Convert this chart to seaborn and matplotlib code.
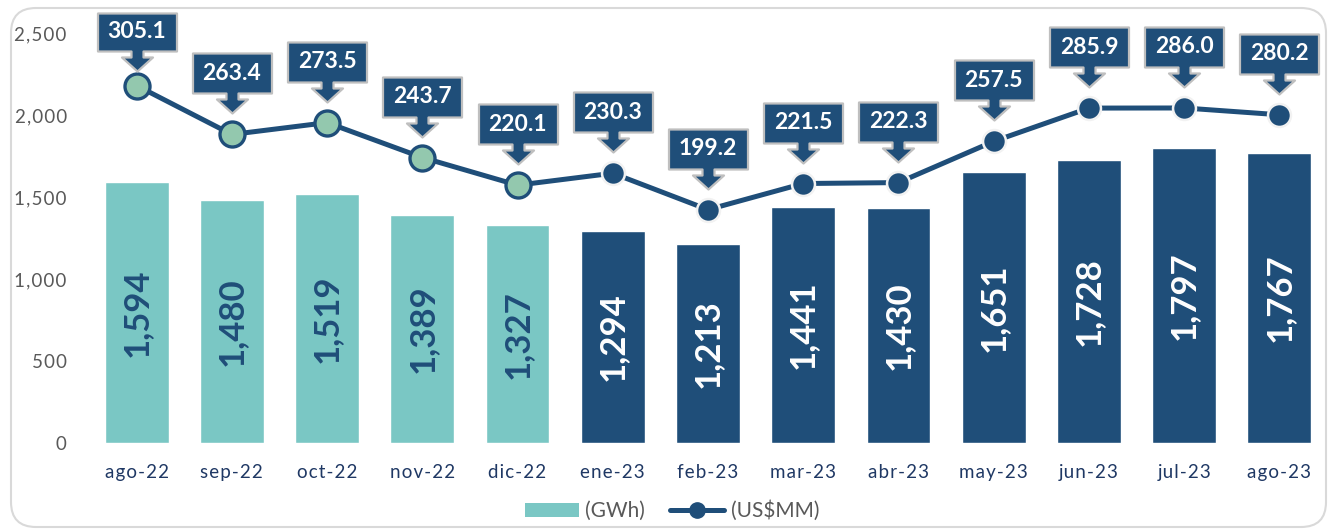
import numpy as np
import pandas as pd
import matplotlib
matplotlib.use("Agg")
import matplotlib.pyplot as plt
import seaborn as sns
from matplotlib.path import Path
from matplotlib.patches import FancyBboxPatch, Patch
from matplotlib.lines import Line2D
from matplotlib.transforms import IdentityTransform

# ---------------- data ----------------
months = ["ago-22", "sep-22", "oct-22", "nov-22", "dic-22", "ene-23", "feb-23",
          "mar-23", "abr-23", "may-23", "jun-23", "jul-23", "ago-23"]
gwh = [1594, 1480, 1519, 1389, 1327, 1294, 1213, 1441, 1430, 1651, 1728, 1797, 1767]
usd_mm = [305.1, 263.4, 273.5, 243.7, 220.1, 230.3, 199.2, 221.5, 222.3, 257.5, 285.9, 286.0, 280.2]
y_ticks = [0, 500, 1000, 1500, 2000, 2500]
legend_labels = ["(GWh)", "(US\\$MM)"]
n_prior = 5  # first five months drawn in teal

# ---------------- style ----------------
TEAL = "#7AC7C4"
NAVY = "#1F4E79"
GREEN = "#93C8AE"
GRAY = "#595959"
XLAB = "#1F3864"
SP = "\u200a"  # hair space used to mimic the letter-spaced tick labels

sns.set_theme(style="white")
plt.rcParams["font.family"] = ["Lato", "DejaVu Sans"]

W, H, DPI = 1332, 529, 100
fig = plt.figure(figsize=(W / DPI, H / DPI), dpi=DPI)
ax = fig.add_axes([89 / W, 1 - 443 / H, (1327 - 89) / W, (443 - 33) / H])

df = pd.DataFrame({"month": months, "gwh": gwh, "usd": usd_mm})
bar_colors = [TEAL if i < n_prior else NAVY for i in range(len(months))]
sns.barplot(data=df, x="month", y="gwh", hue="month", palette=bar_colors,
            legend=False, width=0.67, saturation=1, ax=ax)

ax.set_xlim(-0.5, len(months) - 0.5)
ax.set_ylim(0, 2500)
ax.set_yticks(y_ticks)
ax.set_yticklabels([SP.join(f"{t:,}") for t in y_ticks])
ax.set_xticks(range(len(months)))
ax.set_xticklabels([SP.join(m) for m in months])
ax.set_xlabel("")
ax.set_ylabel("")
for s in ax.spines.values():
    s.set_visible(False)
ax.tick_params(axis="y", length=0, pad=16, labelsize=13.5, labelcolor=GRAY)
ax.tick_params(axis="x", length=0, pad=15, labelsize=13.5, labelcolor=XLAB)

# bar value labels (vertical, centred in bar)
for i, v in enumerate(gwh):
    ax.text(i, v / 2, f"{v:,}", rotation=90, ha="center", va="center",
            fontsize=25, fontweight="bold",
            color=NAVY if i < n_prior else "white")

# ---------------- secondary axis: line ----------------
ax2 = ax.twinx()
ax2.set_ylim(0, 350)
ax2.set_yticks([])
for s in ax2.spines.values():
    s.set_visible(False)

sns.lineplot(data=df, x="month", y="usd", color=NAVY, linewidth=3.6,
             sort=False, ax=ax2, zorder=3)
ax2.set_ylabel("")
ax2.set_xlabel("")

xs = np.arange(len(months))
ax2.plot(xs[:n_prior], usd_mm[:n_prior], linestyle="none", marker="o",
         markersize=18, markerfacecolor=GREEN, markeredgecolor=NAVY,
         markeredgewidth=2.4, zorder=4, clip_on=False)
ax2.plot(xs[n_prior:], usd_mm[n_prior:], linestyle="none", marker="o",
         markersize=16.5, markerfacecolor=NAVY, markeredgecolor="#F2F2F2",
         markeredgewidth=1.8, zorder=4, clip_on=False)


def callout_path(tip, head_base, box_bot, box_top, half_w=39.5, head_hw=15.5, shaft_hw=6):
    verts = [(0, tip), (head_hw, head_base), (shaft_hw, head_base), (shaft_hw, box_bot),
             (half_w, box_bot), (half_w, box_top), (-half_w, box_top), (-half_w, box_bot),
             (-shaft_hw, box_bot), (-shaft_hw, head_base), (-head_hw, head_base), (0, tip),
             (0, tip)]
    codes = [Path.MOVETO] + [Path.LINETO] * (len(verts) - 2) + [Path.CLOSEPOLY]
    return Path(verts, codes), box_top, (box_bot + box_top) / 2


px2pt = 72 / DPI
for i, v in enumerate(usd_mm):
    if i == 0:
        path, top, mid = callout_path(15, 29, 35, 73)
    else:
        path, top, mid = callout_path(21, 35, 41, 81)
    ax2.plot([i], [v], linestyle="none", marker=path, markersize=2 * top * px2pt,
             markerfacecolor=NAVY, markeredgecolor="#BFBFBF", markeredgewidth=1.6,
             zorder=5, clip_on=False)
    ax2.annotate(f"{v:.1f}", (i, v), xytext=(0, mid * px2pt), textcoords="offset points",
                 ha="center", va="center", color="white", fontsize=16.5,
                 fontweight="bold", zorder=6, annotation_clip=False)

# ---------------- legend ----------------
handles = [Patch(facecolor=TEAL, edgecolor="none"),
           Line2D([0], [0], color=NAVY, linewidth=3.6, marker="o", markersize=11,
                  markerfacecolor=NAVY)]
fig.legend(handles, legend_labels, loc="center", bbox_to_anchor=(672 / W, 1 - 511 / H),
           ncol=2, frameon=False, fontsize=15, labelcolor=GRAY, handlelength=2.6,
           handletextpad=0.3, columnspacing=1.2)

# ---------------- frame ----------------
frame = FancyBboxPatch((11, 2), 1315, 519, boxstyle="round,pad=0,rounding_size=25",
                       facecolor="none", edgecolor="#D9D9D9", linewidth=1.5,
                       transform=IdentityTransform())
fig.patches.append(frame)

fig.savefig("out.png", dpi=DPI)
